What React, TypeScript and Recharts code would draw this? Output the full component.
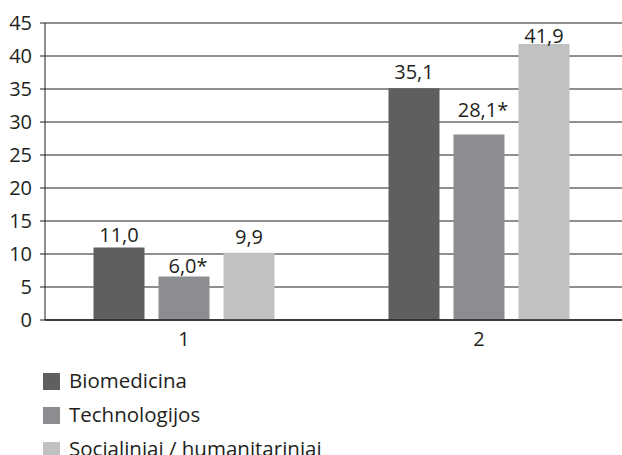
import React from 'react';
import { BarChart, Bar, XAxis, YAxis, CartesianGrid, Legend, LabelList } from 'recharts';

const categories = ['1', '2'];
const biomedicina = [11.0, 35.1];
const technologijos = [6.6, 28.1];
const socialiniai = [10.2, 41.8];
const biomedicinaLabels = ['11,0', '35,1'];
const technologijosLabels = ['6,0*', '28,1*'];
const socialiniaiLabels = ['9,9', '41,9'];
const yTicks = [0, 5, 10, 15, 20, 25, 30, 35, 40, 45];
const seriesNames = ['Biomedicina', 'Technologijos', 'Socialiniai / humanitariniai'];
const seriesKeys = ['bio', 'tech', 'soc'];
const seriesColors = ['#5f5f61', '#8c8d90', '#c0c1c3'];

const labelGaps = {
  bio: [5, 9],
  tech: [3.5, 17.5],
  soc: [8.5, 1.5],
};

const data = categories.map((name, i) => ({
  name,
  bio: biomedicina[i],
  tech: technologijos[i],
  soc: socialiniai[i],
}));

const FONT = '"Open Sans", sans-serif';
const INK = '#231f20';

const makeLabel = (labels: string[], gaps: number[]) => (props: any) => {
  const { x, y, width, index } = props;
  const text = labels[index];
  const shift = text.endsWith('*') ? 4 : 0;
  return (
    <text
      x={Number(x) + Number(width) / 2 + shift}
      y={Number(y) - gaps[index]}
      textAnchor="middle"
      fontSize={20}
      fill={INK}
      fontFamily={FONT}
    >
      {text}
    </text>
  );
};

const renderLegend = () => (
  <div style={{ fontFamily: FONT }}>
    {seriesNames.map((n, i) => (
      <div key={n} style={{ display: 'flex', alignItems: 'center', height: 34.3 }}>
        <span style={{ display: 'inline-block', width: 17, height: 17, background: seriesColors[i], marginRight: 9 }} />
        <span style={{ fontSize: 20.5, color: INK, lineHeight: '20px', position: 'relative', top: -2 }}>{n}</span>
      </div>
    ))}
  </div>
);

export default function App() {
  const labelSets = [biomedicinaLabels, technologijosLabels, socialiniaiLabels];
  return (
    <div style={{ width: 622, height: 455 }}>
      <style>{`body{margin:0;overflow:hidden}`}</style>
      <BarChart
        width={622}
        height={455}
        data={data}
        margin={{ top: 23, right: 0, left: 0, bottom: 105 }}
        barGap={14}
      >
        <CartesianGrid horizontal vertical={false} stroke={INK} strokeOpacity={1} />
        <XAxis
          dataKey="name"
          height={30}
          tickLine={false}
          axisLine={{ stroke: INK, strokeWidth: 1.5 }}
          tick={{ fontSize: 20, fill: INK, fontFamily: FONT }}
          tickMargin={6}
          padding={{ left: -8.5, right: -4.5 }}
        />
        <YAxis
          width={45}
          domain={[0, 45]}
          ticks={yTicks}
          interval={0}
          tickSize={5}
          tickMargin={8}
          tickLine={{ stroke: INK }}
          axisLine={{ stroke: INK }}
          tick={{ fontSize: 20, fill: INK, fontFamily: FONT }}
        />
        <Legend
          layout="horizontal"
          verticalAlign="middle"
          align="center"
          width={400}
          wrapperStyle={{ top: 364.5, left: 43 }}
          content={renderLegend}
        />
        {seriesKeys.map((k, i) => (
          <Bar key={k} dataKey={k} name={seriesNames[i]} fill={seriesColors[i]} barSize={51} isAnimationActive={false}>
            <LabelList dataKey={k} content={makeLabel(labelSets[i], (labelGaps as any)[k])} />
          </Bar>
        ))}
      </BarChart>
    </div>
  );
}
